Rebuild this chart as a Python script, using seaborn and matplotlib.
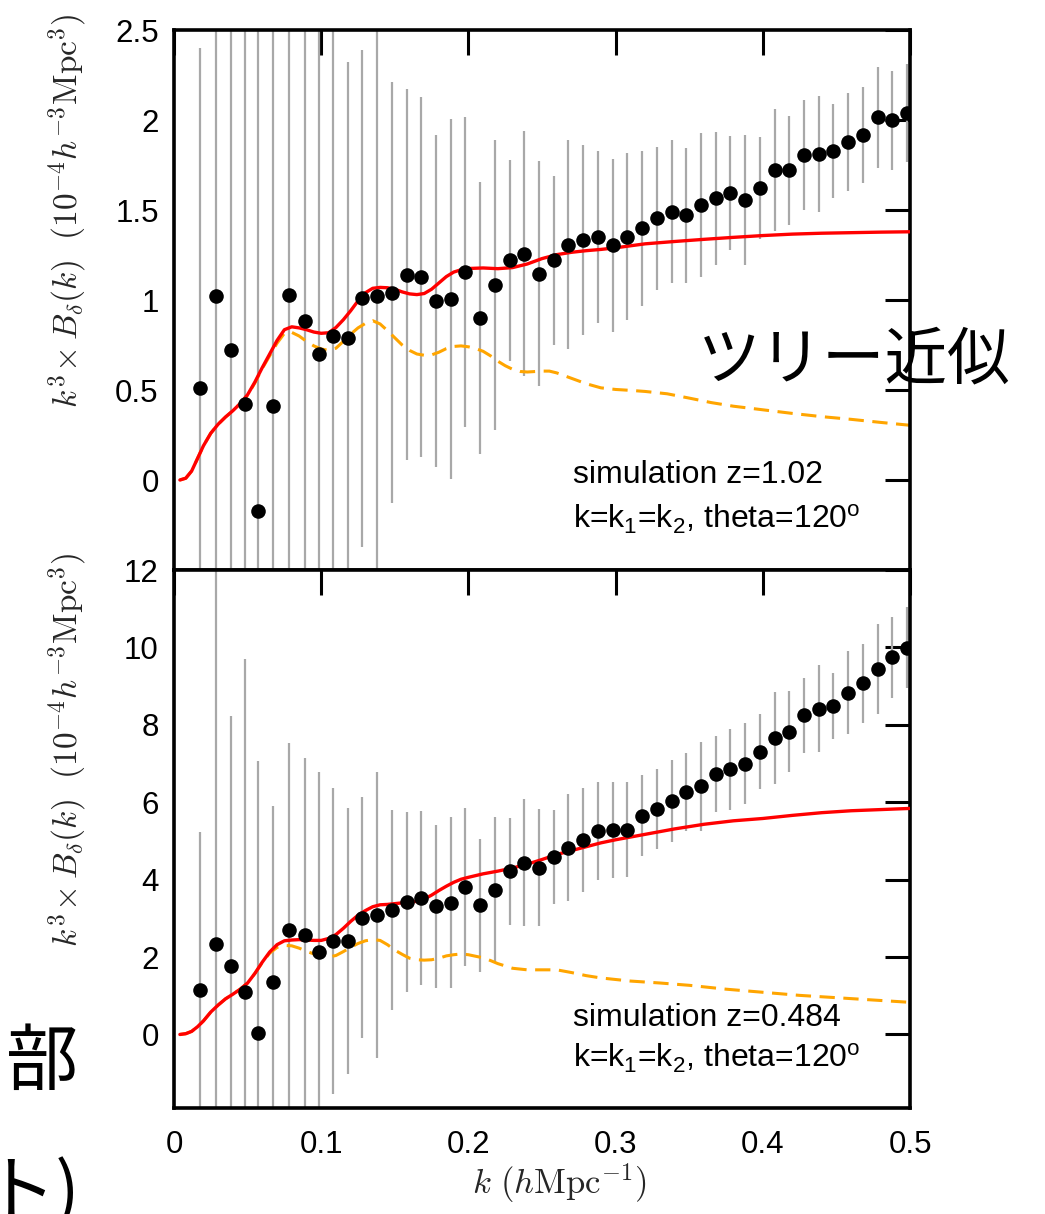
import numpy as np
import pandas as pd
import matplotlib
matplotlib.use("Agg")
import matplotlib.pyplot as plt
import seaborn as sns

# ---------------- data ----------------
k_bins = [0.0175, 0.0287, 0.0388, 0.0484, 0.0568, 0.067, 0.0778, 0.0887, 0.0987,
          0.108, 0.118, 0.128, 0.138, 0.148, 0.158, 0.168, 0.178, 0.188, 0.198,
          0.208, 0.218, 0.228, 0.238, 0.248, 0.258, 0.268, 0.278, 0.288, 0.298,
          0.308, 0.318, 0.328, 0.338, 0.348, 0.358, 0.368, 0.378, 0.388, 0.398,
          0.408, 0.418, 0.428, 0.438, 0.448, 0.458, 0.468, 0.478, 0.488, 0.498]

sim_z102 = [0.51, 1.02, 0.72, 0.42, -0.17, 0.41, 1.03, 0.885, 0.70, 0.80, 0.79, 1.01,
            1.02, 1.04, 1.14, 1.13, 0.995, 1.005, 1.157, 0.90, 1.085, 1.22, 1.257,
            1.146, 1.22, 1.308, 1.333, 1.35, 1.304, 1.352, 1.398, 1.453, 1.491, 1.472,
            1.526, 1.564, 1.596, 1.555, 1.621, 1.721, 1.72, 1.804, 1.809, 1.828, 1.879,
            1.917, 2.015, 1.998, 2.038]
err_z102 = [1.89, 2.6, 2.9, 3.0, 3.2, 2.3, 2.2, 2.1, 2.1, 1.8, 1.53, 1.38, 1.66, 1.17,
            1.03, 1.0, 0.92, 1.0, 0.86, 0.755, 0.805, 0.56, 0.68, 0.625, 0.47, 0.58,
            0.53, 0.48, 0.482, 0.463, 0.43, 0.397, 0.397, 0.375, 0.40, 0.367, 0.316,
            0.362, 0.282, 0.339, 0.305, 0.305, 0.322, 0.261, 0.273, 0.265, 0.282,
            0.274, 0.271]

sim_z0484 = [1.16, 2.34, 1.76, 1.10, 0.04, 1.35, 2.70, 2.56, 2.14, 2.41, 2.42, 3.02,
             3.08, 3.21, 3.42, 3.52, 3.31, 3.40, 3.80, 3.34, 3.74, 4.22, 4.44, 4.31,
             4.59, 4.82, 5.02, 5.25, 5.28, 5.29, 5.65, 5.82, 6.04, 6.26, 6.41, 6.72,
             6.85, 7.0, 7.31, 7.66, 7.82, 8.25, 8.42, 8.49, 8.83, 9.07, 9.44, 9.74, 9.99]
err_z0484 = [4.06, 10.5, 6.48, 8.59, 7.03, 4.55, 4.84, 4.59, 4.63, 3.95, 3.43, 3.11,
             3.69, 2.58, 2.33, 2.25, 2.1, 2.21, 2.04, 1.72, 1.87, 1.38, 1.65, 1.52,
             1.22, 1.38, 1.35, 1.27, 1.24, 1.22, 1.05, 1.04, 1.06, 1.0, 1.15, 0.98,
             1.05, 1.05, 0.96, 1.18, 1.05, 0.97, 1.13, 0.86, 1.07, 1.02, 1.16, 1.04, 1.05]

# model curves, top panel (z=1.02)
k_full_top = [0.004, 0.008, 0.012, 0.016, 0.02, 0.025, 0.03, 0.035, 0.04, 0.045, 0.05,
              0.055, 0.06, 0.065, 0.07, 0.075, 0.08, 0.085, 0.09, 0.095, 0.1, 0.105,
              0.11, 0.115, 0.12, 0.125, 0.13, 0.135, 0.14, 0.145, 0.15, 0.155, 0.16,
              0.165, 0.17, 0.175, 0.18, 0.185, 0.19, 0.195, 0.2, 0.21, 0.22, 0.23,
              0.24, 0.25, 0.26, 0.27, 0.28, 0.29, 0.3, 0.32, 0.34, 0.36, 0.38, 0.4,
              0.42, 0.44, 0.46, 0.48, 0.5]
full_top = [0.0, 0.01, 0.05, 0.12, 0.19, 0.26, 0.31, 0.35, 0.385, 0.425, 0.474, 0.545,
            0.625, 0.70, 0.775, 0.835, 0.851, 0.845, 0.835, 0.822, 0.815, 0.818, 0.847,
            0.89, 0.94, 0.995, 1.04, 1.065, 1.07, 1.068, 1.06, 1.045, 1.034, 1.03,
            1.036, 1.06, 1.095, 1.13, 1.155, 1.168, 1.175, 1.178, 1.174, 1.18, 1.2,
            1.23, 1.252, 1.265, 1.274, 1.281, 1.29, 1.312, 1.325, 1.337, 1.348, 1.358,
            1.366, 1.371, 1.374, 1.377, 1.379]
k_tree_top = [0.004, 0.008, 0.012, 0.016, 0.02, 0.025, 0.03, 0.035, 0.04, 0.045, 0.05,
              0.055, 0.06, 0.065, 0.07, 0.075, 0.08, 0.085, 0.09, 0.095, 0.1, 0.105,
              0.11, 0.115, 0.12, 0.125, 0.13, 0.135, 0.14, 0.145, 0.15, 0.155, 0.16,
              0.165, 0.17, 0.175, 0.18, 0.185, 0.19, 0.195, 0.2, 0.205, 0.21, 0.215,
              0.22, 0.225, 0.23, 0.235, 0.24, 0.25, 0.255, 0.26, 0.27, 0.28, 0.29, 0.3,
              0.31, 0.32, 0.335, 0.35, 0.365, 0.38, 0.4, 0.42, 0.44, 0.46, 0.48, 0.5]
tree_top = [0.0, 0.01, 0.05, 0.12, 0.19, 0.26, 0.31, 0.35, 0.385, 0.425, 0.47, 0.54,
            0.62, 0.69, 0.76, 0.815, 0.82, 0.80, 0.77, 0.745, 0.728, 0.72, 0.732, 0.77,
            0.81, 0.845, 0.87, 0.885, 0.867, 0.83, 0.79, 0.75, 0.72, 0.70, 0.693, 0.695,
            0.71, 0.73, 0.742, 0.745, 0.74, 0.73, 0.715, 0.69, 0.66, 0.635, 0.615,
            0.603, 0.60, 0.605, 0.605, 0.595, 0.565, 0.535, 0.512, 0.503, 0.498, 0.492,
            0.479, 0.455, 0.43, 0.41, 0.39, 0.37, 0.352, 0.337, 0.32, 0.304]

# model curves, bottom panel (z=0.484)
k_full_bot = [0.004, 0.008, 0.012, 0.016, 0.02, 0.025, 0.03, 0.035, 0.04, 0.045, 0.05,
              0.055, 0.06, 0.065, 0.07, 0.075, 0.08, 0.085, 0.09, 0.095, 0.1, 0.105,
              0.11, 0.115, 0.12, 0.125, 0.13, 0.135, 0.14, 0.145, 0.15, 0.155, 0.16,
              0.165, 0.17, 0.175, 0.18, 0.185, 0.19, 0.195, 0.2, 0.21, 0.22, 0.23,
              0.24, 0.25, 0.26, 0.27, 0.28, 0.29, 0.3, 0.32, 0.34, 0.36, 0.38, 0.4,
              0.42, 0.44, 0.46, 0.48, 0.5]
full_bot = [0.0, 0.02, 0.08, 0.2, 0.35, 0.58, 0.76, 0.92, 1.04, 1.17, 1.33, 1.58, 1.87,
            2.13, 2.32, 2.42, 2.44, 2.45, 2.44, 2.43, 2.43, 2.48, 2.58, 2.74, 2.92, 3.08,
            3.2, 3.3, 3.35, 3.36, 3.38, 3.4, 3.42, 3.44, 3.5, 3.6, 3.72, 3.83, 3.93,
            4.01, 4.06, 4.15, 4.22, 4.3, 4.4, 4.52, 4.65, 4.75, 4.85, 4.95, 5.03, 5.17,
            5.31, 5.43, 5.52, 5.58, 5.66, 5.73, 5.78, 5.81, 5.84]
k_tree_bot = [0.004, 0.008, 0.012, 0.016, 0.02, 0.025, 0.03, 0.035, 0.04, 0.045, 0.05,
              0.055, 0.06, 0.065, 0.07, 0.075, 0.08, 0.085, 0.09, 0.095, 0.1, 0.105,
              0.11, 0.115, 0.12, 0.125, 0.13, 0.135, 0.14, 0.145, 0.15, 0.155, 0.16,
              0.165, 0.17, 0.175, 0.18, 0.185, 0.19, 0.195, 0.2, 0.21, 0.215, 0.22,
              0.23, 0.24, 0.25, 0.26, 0.27, 0.28, 0.29, 0.3, 0.31, 0.33, 0.35, 0.375,
              0.4, 0.425, 0.45, 0.475, 0.5]
tree_bot = [0.0, 0.02, 0.08, 0.2, 0.35, 0.58, 0.76, 0.92, 1.04, 1.17, 1.33, 1.58, 1.86,
            2.1, 2.25, 2.3, 2.29, 2.23, 2.15, 2.08, 2.03, 2.0, 2.04, 2.14, 2.25, 2.35,
            2.42, 2.45, 2.43, 2.32, 2.18, 2.07, 1.97, 1.93, 1.92, 1.93, 1.97, 2.03, 2.06,
            2.08, 2.06, 1.98, 1.91, 1.83, 1.71, 1.67, 1.67, 1.67, 1.6, 1.52, 1.46, 1.42,
            1.38, 1.33, 1.27, 1.17, 1.09, 1.01, 0.95, 0.89, 0.83]

xticks = [0, 0.1, 0.2, 0.3, 0.4, 0.5]
xtick_labels = ["0", "0.1", "0.2", "0.3", "0.4", "0.5"]
yticks_top = [0, 0.5, 1, 1.5, 2, 2.5]
ytick_labels_top = ["0", "0.5", "1", "1.5", "2", "2.5"]
yticks_bot = [0, 2, 4, 6, 8, 10, 12]
ytick_labels_bot = ["0", "2", "4", "6", "8", "10", "12"]

# ---------------- style ----------------
sns.set_theme(style="white")
plt.rcParams["font.family"] = ["Liberation Sans", "DejaVu Sans"]
plt.rcParams["mathtext.fontset"] = "cm"
plt.rcParams["mathtext.rm"] = "Liberation Sans"
plt.rcParams["mathtext.it"] = "Liberation Sans:italic"
plt.rcParams["mathtext.bf"] = "Liberation Sans:bold"

W, H = 1045, 1214
fig = plt.figure(figsize=(W / 100, H / 100), dpi=100)
fig.patch.set_facecolor("white")

L, R = 174, 910
ax1 = fig.add_axes([L / W, 1 - 570 / H, (R - L) / W, 540 / H])
ax2 = fig.add_axes([L / W, 1 - 1108 / H, (R - L) / W, 538 / H])

panels = [
    (ax1, sim_z102, err_z102, k_full_top, full_top, k_tree_top, tree_top,
     (-0.5, 2.5), yticks_top, ytick_labels_top, "simulation z=1.02", 0.176, 0.093),
    (ax2, sim_z0484, err_z0484, k_full_bot, full_bot, k_tree_bot, tree_bot,
     (-1.9, 12), yticks_bot, ytick_labels_bot, "simulation z=0.484", 0.167, 0.093),
]

ylabel = r"$k^3\!\times B_\delta(k)\ \ (10^{-4}h^{-3}\mathrm{Mpc}^3)$"

for (ax, yv, ye, kf, vf, kt, vt, ylim, yt, ytl, title, ty1, ty2) in panels:
    ax.set_facecolor("white")
    ax.errorbar(k_bins, yv, yerr=ye, fmt="none", ecolor="#a8a8a8",
                elinewidth=1.6, capsize=0, zorder=1)
    sns.lineplot(x=kt, y=vt, ax=ax, color="#ffa500", lw=2.2, sort=False,
                 dashes=False, zorder=2).lines[-1].set_dashes((5, 2.8))
    sns.lineplot(x=kf, y=vf, ax=ax, color="#ff0000", lw=2.4, sort=False, zorder=3)
    sns.scatterplot(x=k_bins, y=yv, ax=ax, color="black", s=110, linewidth=0,
                    zorder=4)
    ax.set_xlim(0, 0.5)
    ax.set_ylim(*ylim)
    ax.set_xticks(xticks)
    ax.set_yticks(yt, ytl)
    ax.tick_params(axis="both", which="major", direction="in", length=18, width=2.2,
                   top=True, right=True, labelsize=22.5, colors="black")
    ax.tick_params(axis="y", pad=11)
    ax.tick_params(axis="x", pad=16)
    for sp in ax.spines.values():
        sp.set_linewidth(2.6)
        sp.set_color("black")
    ax.set_ylabel(ylabel, fontsize=24)
    ax.yaxis.set_label_coords(-0.115, 0.665)
    ax.text(0.542, ty1, title, transform=ax.transAxes, fontsize=23,
            ha="left", va="center", color="black")
    ax.text(0.542, ty2, r"k=k$_{\mathrm{1}}$=k$_{\mathrm{2}}$, theta=120$^{\mathrm{o}}$",
            transform=ax.transAxes, fontsize=23, ha="left", va="center",
            color="black", math_fontfamily="custom")
    ax.grid(False)

ax1.set_xticklabels([])
ax1.set_xlabel("")
ax2.set_xticks(xticks, xtick_labels)
ax2.set_xlabel(r"$k\ (h\mathrm{Mpc}^{-1})$", fontsize=25)
ax2.xaxis.set_label_coords(0.524, -0.1)

# slide overlay text
jp = ["Noto Sans CJK JP", "DejaVu Sans"]
fig.text(698 / W, 1 - 360 / H, "ツリー近似", fontsize=45, family=jp,
         ha="left", va="center", color="black")
fig.text(42 / W, 1 - 1063 / H, "部", fontsize=52, family=jp,
         ha="center", va="center", color="black")
fig.text(-17 / W, 1 - 1215 / H, "ト)", fontsize=52, family=jp,
         ha="left", va="baseline", color="black")

fig.savefig("out.png", dpi=100, facecolor="white")
